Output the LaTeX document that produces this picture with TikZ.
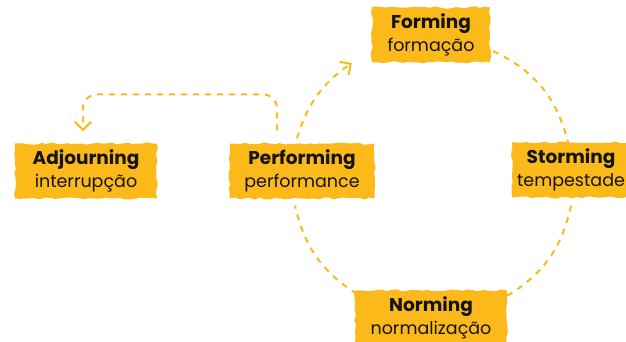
\documentclass[tikz,border=0pt]{standalone}
\usepackage{fontspec}
\setmainfont{Poppins}
\usetikzlibrary{arrows.meta,decorations.pathmorphing,calc}
\definecolor{ylw}{RGB}{251,186,26}
\definecolor{ink}{RGB}{20,20,20}
\newcommand{\hd}[1]{{\fontsize{18.5}{22}\selectfont\bfseries #1}}
\begin{document}
\begin{tikzpicture}[x=1pt,y=-1pt,
  stage/.style={fill=ylw, decorate,
    decoration={random steps,segment length=5pt,amplitude=1.1pt},
    minimum height=55pt, align=center, inner sep=0pt,
    font=\fontsize{17.5}{23}\selectfont, text=ink},
  flow/.style={draw=ylw, line width=2pt, dash pattern=on 6pt off 6pt},
  tip/.style={-{Straight Barb[length=8pt,width=16pt]}}
]
\pgfmathsetseed{7}
\useasboundingbox (0,0) rectangle (626,342);
\clip (0,0) rectangle (626,342);
\node[stage, minimum width=118pt] (F) at (431,35) {\hd{Forming}\\formação};
\node[stage, minimum width=142pt] (A) at (86,171) {\hd{Adjourning}\\interrupção};
\node[stage, minimum width=145pt] (P) at (302,171) {\hd{Performing}\\performance};
\node[stage, minimum width=118pt] (S) at (571,170) {\hd{Storming}\\tempestade};
\node[stage, minimum width=152pt] (N) at (431,318) {\hd{Norming}\\normalização};
% cycle
\draw[flow] ([xshift=3pt,yshift=-16pt]F.east) to[bend left=25] ([xshift=-3pt]S.north);
\draw[flow] ([yshift=-8pt]S.south) to[bend left=24] ([xshift=-4pt,yshift=20pt]N.east);
\draw[flow] ([xshift=2pt,yshift=24pt]N.west) to[bend left=22] ([xshift=-7pt,yshift=-7pt]P.south);
\draw[flow, tip] ([xshift=-5pt,yshift=5pt]P.north) to[bend left=19] ([xshift=-20pt,yshift=-28pt]F.west);
% adjourning
\draw[flow, tip, rounded corners=14pt] ([xshift=-25pt,yshift=13pt]P.north) -- ([xshift=-25pt,yshift=49pt]P.north) -| ([xshift=-3pt,yshift=12pt]A.north);
\end{tikzpicture}
\end{document}
